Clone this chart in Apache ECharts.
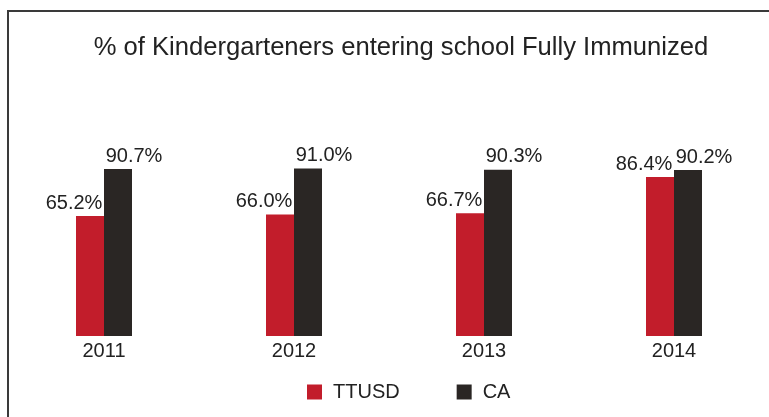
<!DOCTYPE html>
<html>
<head>
<meta charset="utf-8">
<script src="https://cdn.jsdelivr.net/npm/echarts@6/dist/echarts.min.js"></script>
<style>
html,body{margin:0;padding:0;background:#fff;}
#c{width:769px;height:417px;}
</style>
</head>
<body>
<div id="c"></div>
<script>
const titleText = '% of Kindergarteners entering school Fully Immunized';
const categories = ['2011', '2012', '2013', '2014'];
const seriesNames = ['TTUSD', 'CA'];
const ttusdValues = [65.2, 66.0, 66.7, 86.4];
const caValues = [90.7, 91.0, 90.3, 90.2];

const chart = echarts.init(document.getElementById('c'));
const font = 'Liberation Sans, Arial, sans-serif';
const labelStyle = (dx) => ({
  show: true,
  position: 'top',
  distance: 3,
  offset: [dx, 0],
  color: '#222',
  fontSize: 20,
  fontFamily: font,
  formatter: (p) => p.value.toFixed(1) + '%'
});
chart.setOption({
  backgroundColor: '#fff',
  animation: false,
  graphic: [{
    type: 'rect',
    shape: { x: 8, y: 11, width: 800, height: 450 },
    style: { fill: 'none', stroke: '#3a3a3a', lineWidth: 2 }
  }],
  title: {
    text: titleText,
    left: 396,
    textAlign: 'center',
    top: 30,
    textStyle: { fontFamily: font, fontSize: 25.6, fontWeight: 'normal', color: '#222' }
  },
  legend: {
    left: 302,
    top: 377,
    itemWidth: 15,
    itemHeight: 15,
    itemGap: 57,
    icon: 'rect',
    textStyle: { fontFamily: font, fontSize: 20, color: '#222', padding: [0, 0, 0, 6] },
    data: seriesNames
  },
  grid: { left: 9, right: 0, top: 152, bottom: 81, containLabel: false },
  xAxis: {
    type: 'category',
    data: categories,
    axisLine: { show: false },
    axisTick: { show: false },
    axisLabel: { color: '#222', fontSize: 20, fontFamily: font, margin: 5 }
  },
  yAxis: {
    type: 'value',
    min: 0,
    max: 100,
    show: false,
    splitLine: { show: false }
  },
  series: [{
    name: seriesNames[0],
    type: 'bar',
    data: ttusdValues,
    barWidth: 28,
    barGap: '0%',
    itemStyle: { color: '#c21d2b' },
    label: labelStyle(-16)
  }, {
    name: seriesNames[1],
    type: 'bar',
    data: caValues,
    barWidth: 28,
    barGap: '0%',
    itemStyle: { color: '#2a2624' },
    label: labelStyle(16)
  }]
});
</script>
</body>
</html>
